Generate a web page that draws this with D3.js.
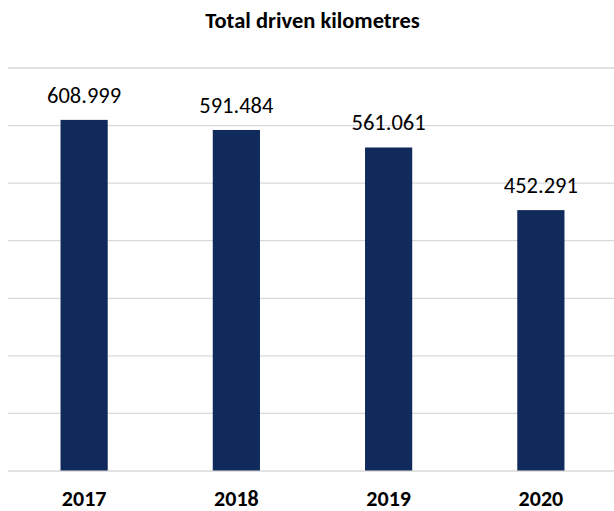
<!DOCTYPE html>
<html>
<head>
<meta charset="utf-8">
<script src="https://cdn.jsdelivr.net/npm/d3@7"></script>
<style>
	body { margin: 0; background: #fff; }
	svg { display: block; }
</style>
</head>
<body>
<svg id="chart"></svg>
<script>
// Chart data
var years = ["2017", "2018", "2019", "2020"];
var kilometres = [608.999, 591.484, 561.061, 452.291];
var yTicks = [0, 100, 200, 300, 400, 500, 600, 700];
var chartTitle = "Total driven kilometres";

var width = 614,
	height = 511;

var margin = {top: 67.5, left: 8, right: -3, bottom: 40.5},
	iwidth = width - margin.left - margin.right,
	iheight = height - margin.top - margin.bottom;

var fontStack = "Carlito, Calibri, Lato, sans-serif";

var svg = d3.select("#chart")
	.attr("width", width)
	.attr("height", height);

// Scales
var x = d3.scaleBand()
	.domain(years)
	.range([0, iwidth])
	.paddingInner(0.69)
	.paddingOuter(0.345);

var y = d3.scaleLinear()
	.domain([0, 700])
	.range([iheight, 0]);

var g = svg.append("g")
	.attr("transform", "translate(" + margin.left + "," + margin.top + ")");

// Gridlines
g.append("g")
	.attr("class", "grid")
	.call(d3.axisLeft(y)
		.tickValues(yTicks)
		.tickSize(-iwidth)
		.tickFormat(""))
	.call(s => s.select(".domain").remove())
	.selectAll("line")
	.attr("stroke", "#d9d9d9")
	.attr("stroke-width", 1.3);

// Bars
g.selectAll(".bar")
	.data(kilometres)
	.enter()
	.append("rect")
	.attr("class", "bar")
	.attr("x", (d, i) => x(years[i]))
	.attr("y", d => y(d))
	.attr("width", x.bandwidth())
	.attr("height", d => iheight - y(d))
	.attr("fill", "#102a5c");

// Value labels
g.selectAll(".label")
	.data(kilometres)
	.enter()
	.append("text")
	.attr("class", "label")
	.attr("x", (d, i) => x(years[i]) + x.bandwidth() / 2)
	.attr("y", d => y(d) - 17)
	.attr("text-anchor", "middle")
	.style("font-family", fontStack)
	.style("font-size", "22.5px")
	.style("fill", "#000")
	.text(d => d3.format(".3f")(d));

// Category labels
g.append("g")
	.attr("transform", "translate(0," + iheight + ")")
	.call(d3.axisBottom(x).tickSize(0).tickPadding(0))
	.call(s => s.select(".domain").remove())
	.selectAll("text")
	.attr("y", 35.5)
	.attr("dy", 0)
	.style("font-family", fontStack)
	.style("font-weight", "bold")
	.style("font-size", "22px")
	.style("fill", "#000");

// Title
svg.append("text")
	.attr("x", margin.left + iwidth / 2)
	.attr("y", 28)
	.attr("text-anchor", "middle")
	.style("font-family", fontStack)
	.style("font-weight", "bold")
	.style("font-size", "22.5px")
	.style("fill", "#000")
	.text(chartTitle);
</script>
</body>
</html>
